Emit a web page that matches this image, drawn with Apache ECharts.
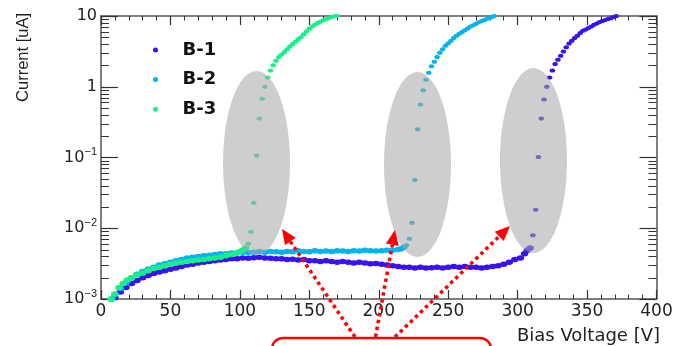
<!DOCTYPE html>
<html><head><meta charset="utf-8">
<script src="https://cdn.jsdelivr.net/npm/echarts@6/dist/echarts.min.js"></script>
<style>html,body{margin:0;padding:0;background:#fff}#c{width:677px;height:346px}</style>
</head><body><div id="c"></div>
<script>
// ---- data (Bias Voltage [V], Current [uA]) ----
const seriesNames = ['B-1', 'B-2', 'B-3'];
const xTicks = [0, 50, 100, 150, 200, 250, 300, 350, 400];
const yTicks = [0.001, 0.01, 0.1, 1, 10];

const dataB1 = [[10,0.00105],[14,0.00126],[18,0.00145],[22,0.00166],[26,0.00182],[30,0.00200],[34,0.00214],[38,0.00229],[42,0.00240],[46,0.00251],
[50,0.00263],[54,0.00275],[58,0.00288],[62,0.00302],[66,0.00309],[70,0.00324],[74,0.00331],[78,0.00339],[82,0.00347],[86,0.00355],
[90,0.00363],[94,0.00372],[98,0.00370],[102,0.00380],[106,0.00378],[110,0.00382],[114,0.00389],[118,0.00380],[122,0.00378],[126,0.00372],
[130,0.00370],[134,0.00363],[138,0.00365],[142,0.00355],[146,0.00362],[150,0.00347],[154,0.00348],[158,0.00339],[162,0.00346],[166,0.00339],
[170,0.00331],[174,0.00338],[178,0.00331],[182,0.00324],[186,0.00330],[190,0.00324],[194,0.00316],[198,0.00317],[202,0.00309],[206,0.00302],
[210,0.00295],[214,0.00288],[218,0.00282],[222,0.00281],[226,0.00275],[230,0.00282],[234,0.00275],[238,0.00276],[242,0.00282],[246,0.00275],
[250,0.00282],[254,0.00288],[258,0.00282],[262,0.00289],[266,0.00282],[270,0.00281],[274,0.00275],[278,0.00282],[282,0.00288],[286,0.00295],
[290,0.00309],[294,0.00331],[298,0.00363],[302,0.00380],[305,0.00437],[307,0.00490],
[309,0.00525],[311,0.00794],[313,0.0182],[315,0.102],[317,0.355],[319,0.661],[321,1.00],[323,1.35],[325,1.70],[327,2.09],
[329,2.40],[331,2.75],[333,3.16],[335,3.63],[337,4.07],[339,4.47],[341,4.90],[343,5.25],[345,5.75],[347,6.17],
[349,6.46],[351,6.76],[353,7.08],[355,7.50],[357,7.85],[359,8.22],[361,8.51],[363,8.81],[365,9.06],[367,9.33],[369,9.66],[371,10.0]];

const dataB2 = [[8,0.00100],[10,0.00117],[14,0.00141],[18,0.00170],[22,0.00200],[26,0.00224],[30,0.00245],[34,0.00263],[38,0.00282],[42,0.00302],
[46,0.00316],[50,0.00331],[54,0.00347],[58,0.00363],[62,0.00380],[66,0.00389],[70,0.00398],[74,0.00407],[78,0.00417],[82,0.00427],
[86,0.00437],[90,0.00435],[94,0.00447],[98,0.00446],[102,0.00457],[106,0.00455],[110,0.00458],[114,0.00468],[118,0.00457],[122,0.00468],
[126,0.00466],[130,0.00457],[134,0.00468],[138,0.00467],[142,0.00479],[146,0.00468],[150,0.00466],[154,0.00479],[158,0.00468],[162,0.00478],
[166,0.00468],[170,0.00479],[174,0.00477],[178,0.00468],[182,0.00479],[186,0.00478],[190,0.00490],[194,0.00479],[198,0.00477],[202,0.00479],
[206,0.00490],[210,0.00489],[214,0.00501],[216,0.00513],[218,0.00537],[220,0.00575],[222,0.00708],[224,0.0120],[226,0.0479],[228,0.251],
[230,0.562],[232,0.891],[234,1.26],[236,1.58],[238,1.95],[240,2.26],[242,2.63],[244,3.02],[246,3.39],[248,3.80],
[250,4.12],[252,4.47],[254,4.90],[256,5.25],[258,5.62],[260,5.96],[262,6.31],[264,6.68],[266,7.08],[268,7.41],
[270,7.76],[272,8.13],[274,8.51],[276,8.81],[278,9.12],[280,9.44],[282,9.77],[283,10.0]];

const dataB3 = [[7,0.00100],[10,0.00117],[13,0.00145],[16,0.00166],[19,0.00186],[22,0.00200],[26,0.00219],[30,0.00234],[34,0.00251],[38,0.00269],
[42,0.00282],[46,0.00295],[50,0.00309],[54,0.00324],[58,0.00331],[62,0.00339],[66,0.00347],[70,0.00355],[74,0.00363],[78,0.00372],
[82,0.00380],[86,0.00389],[90,0.00407],[94,0.00427],[98,0.00447],[100,0.00468],[102,0.00490],[104,0.00525],[106,0.00603],[108,0.00891],
[110,0.0229],[112,0.107],[114,0.355],[116,0.676],[118,1.00],[120,1.35],[122,1.70],[124,2.02],[126,2.34],[128,2.63],
[130,2.85],[132,3.09],[134,3.39],[136,3.72],[138,4.03],[140,4.32],[142,4.68],[144,5.01],[146,5.50],[148,6.03],
[150,6.61],[152,7.08],[154,7.50],[156,7.94],[158,8.32],[160,8.71],[162,9.02],[164,9.33],[166,9.66],[168,9.89],[170,10.0]];

const seriesData = [dataB1, dataB2, dataB3];
const seriesColors = ['#3a12f2', '#00b4f2', '#18ef88'];

// minor log tick values (2..9 in each decade)
const yMinorTicks = [];
for (let d = -3; d < 1; d++) for (let k = 2; k <= 9; k++) yMinorTicks.push(+(k * Math.pow(10, d)).toPrecision(3));

const chart = echarts.init(document.getElementById('c'), null, {renderer: 'canvas'});

const frame = {color: '#555', width: 1.5};
const tickCol = {color: '#333', width: 1.2};
const yMin = yTicks[0], yMax = yTicks[yTicks.length - 1];
const xMin = xTicks[0], xMax = xTicks[xTicks.length - 1], xStep = xTicks[1] - xTicks[0];

function yLabel(v) {
  const e = Math.round(Math.log10(v));
  if (e === 1) return '{b|10}';
  if (e === 0) return '{b|1}';
  return '{b|10}{s|\u2212' + (-e) + '}';
}

function baseX(pos, showLabel) {
  return {
    type: 'value', min: xMin, max: xMax, interval: xStep, position: pos, gridIndex: 0,
    axisLine: {show: true, onZero: false, lineStyle: frame},
    axisTick: {show: true, inside: true, length: 9, lineStyle: tickCol},
    minorTick: {show: true, splitNumber: 5, length: 4.5, lineStyle: {color: '#333', width: 1}},
    splitLine: {show: false}, minorSplitLine: {show: false},
    axisLabel: {show: showLabel, margin: 4, fontFamily: 'DejaVu Sans', fontSize: 17, color: '#222'}
  };
}
function baseY(pos, showLabel) {
  return {
    type: 'log', logBase: 10, min: yMin, max: yMax, position: pos, gridIndex: 0,
    axisLine: {show: true, onZero: false, lineStyle: frame},
    axisTick: {show: true, inside: true, length: 17, lineStyle: tickCol},
    splitLine: {show: false},
    axisLabel: {show: showLabel, margin: 4, formatter: yLabel,
      rich: {
        b: {fontFamily: 'DejaVu Sans', fontSize: 16, color: '#222', lineHeight: 22},
        s: {fontFamily: 'Liberation Sans', fontSize: 11, color: '#222', lineHeight: 10, verticalAlign: 'top'}
      }}
  };
}

// annotation geometry (pixels)
const ellipses = [[256.5, 163, 33.5, 92], [417.5, 164.5, 33.5, 92.5], [533.5, 160.5, 33.5, 92.5]];
const arrows = [[355, 337, 282, 229], [375.5, 337, 395, 230], [395, 337, 510, 226]];
const graphics = [];
ellipses.forEach(e => graphics.push({type: 'ellipse', z: 50, silent: true,
  shape: {cx: e[0], cy: e[1], rx: e[2], ry: e[3]}, style: {fill: 'rgba(168,168,168,0.56)'}}));
arrows.forEach(a => {
  const dx = a[2] - a[0], dy = a[3] - a[1], L = Math.hypot(dx, dy);
  const ux = dx / L, uy = dy / L, hl = 15, hw = 6.5;
  const bx = a[2] - ux * hl, by = a[3] - uy * hl;
  graphics.push({type: 'line', z: 60, silent: true, shape: {x1: a[0], y1: a[1], x2: bx, y2: by},
    style: {stroke: '#ff0000', lineWidth: 3.5, lineDash: [3.5, 3.5]}});
  graphics.push({type: 'polygon', z: 60, silent: true,
    shape: {points: [[a[2], a[3]], [bx - uy * hw, by + ux * hw], [bx + uy * hw, by - ux * hw]]},
    style: {fill: '#ff0000'}});
});
graphics.push({type: 'rect', z: 60, silent: true, shape: {x: 272, y: 338, width: 219, height: 30, r: 11},
  style: {fill: 'none', stroke: '#ff0000', lineWidth: 2.5}});
graphics.push({type: 'text', z: 60, silent: true, x: 660, y: 336,
  style: {text: 'Bias Voltage [V]', fontFamily: 'DejaVu Sans', fontSize: 18, fill: '#222', align: 'right', verticalAlign: 'middle'}});
graphics.push({type: 'text', z: 60, silent: true, x: 23, y: 13, rotation: Math.PI / 2,
  style: {text: 'Current [uA]', fontFamily: 'Liberation Sans', fontSize: 16.5, fill: '#222', align: 'right', verticalAlign: 'middle'}});

const option = {
  animation: false,
  backgroundColor: '#fff',
  grid: {left: 101, right: 20.5, top: 16, bottom: 47, containLabel: false, outerBoundsMode: 'none'},
  legend: {
    orient: 'vertical', left: 153, top: 40, padding: 0, itemGap: 9.6,
    itemWidth: 44, itemHeight: 5, icon: 'circle', symbolKeepAspect: true,
    data: seriesNames,
    textStyle: {fontFamily: 'DejaVu Sans', fontWeight: 'bold', fontSize: 18, color: '#111', lineHeight: 20}
  },
  xAxis: [baseX('bottom', true), baseX('top', false)],
  yAxis: [baseY('left', true), baseY('right', false)],
  graphic: graphics,
  series: seriesNames.map((n, i) => ({
    name: n, type: 'scatter', xAxisIndex: 0, yAxisIndex: 0,
    symbol: 'circle',
    // flat (dense) part of each sweep drawn as a thicker band, steep part as single dots
    symbolSize: (val) => (val[1] < 0.0055 ? [7.5, 5.5] : [5.5, 4]),
    itemStyle: {color: seriesColors[i], opacity: 1},
    data: seriesData[i]
  }))
};
chart.setOption(option);

// minor log ticks on left and right, placed through the y axis scale
const xL = chart.convertToPixel({xAxisIndex: 0}, xMin);
const xR = chart.convertToPixel({xAxisIndex: 0}, xMax);
const minorLines = [];
yMinorTicks.forEach(v => {
  const y = Math.round(chart.convertToPixel({yAxisIndex: 0}, v)) + 0.5;
  minorLines.push({type: 'line', z: 40, silent: true, shape: {x1: xL, y1: y, x2: xL + 8, y2: y}, style: {stroke: '#333', lineWidth: 1}});
  minorLines.push({type: 'line', z: 40, silent: true, shape: {x1: xR, y1: y, x2: xR - 8, y2: y}, style: {stroke: '#333', lineWidth: 1}});
});
chart.setOption({graphic: graphics.concat(minorLines)});
</script></body></html>
